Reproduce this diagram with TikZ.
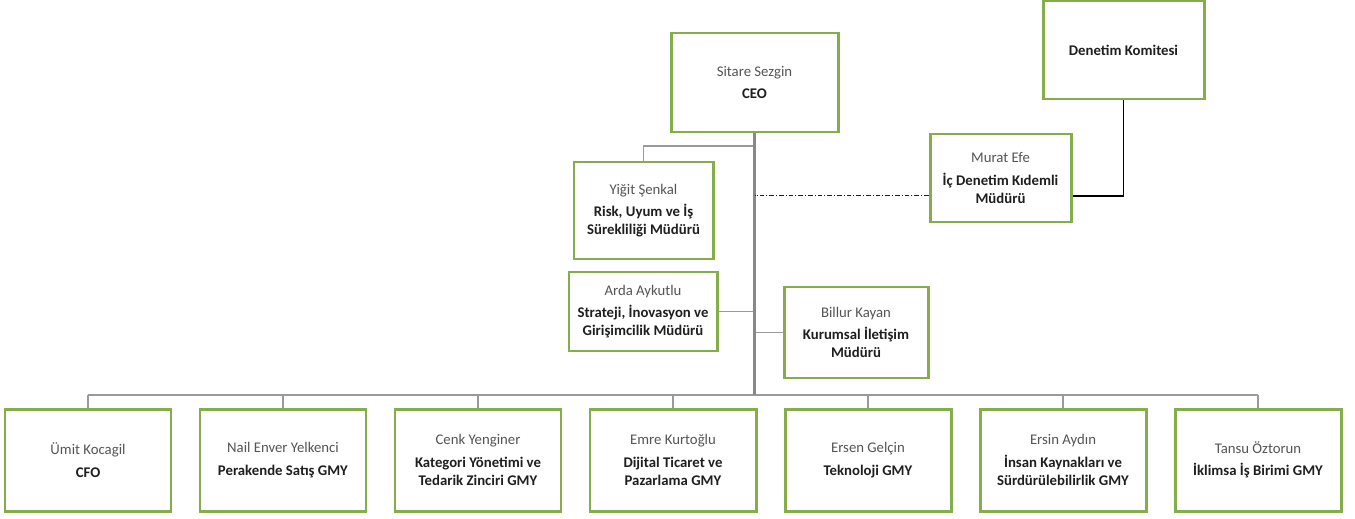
\documentclass[tikz,border=0pt]{standalone}
\usepackage{fontspec}
\setmainfont{Carlito}
\usepackage{tikz}
\usetikzlibrary{shapes,arrows}

\definecolor{boxgreen}{HTML}{86AD4C}
\definecolor{namegray}{HTML}{555555}
\definecolor{titleblack}{HTML}{1F1F1F}
\definecolor{linegray}{HTML}{9A9A9A}
\definecolor{trunkgray}{HTML}{888888}

\tikzset{
  box/.style={draw=boxgreen, line width=1.7pt, fill=white, align=center,
    font=\fontsize{8.4}{10.2}\selectfont, text=titleblack, inner sep=2pt},
  bottombox/.style={box, minimum width=3.32cm, minimum height=2.04cm},
  branch/.style={draw=linegray, line width=0.7pt},
  busline/.style={draw=linegray, line width=1.1pt},
  trunk/.style={draw=trunkgray, line width=1.4pt}
}

\begin{document}
\begin{tikzpicture}
\useasboundingbox (0,0) rectangle (27.1,-10.36);

% top
\node (CEO) at (15.09,-1.65) [box, minimum width=3.34cm, minimum height=1.98cm]
  {\textcolor{namegray}{Sitare Sezgin}\\[2.5pt]\textbf{CEO}};
\node (Denetim) at (22.47,-1.0) [box, minimum width=3.22cm, minimum height=1.96cm]
  {\textbf{Denetim Komitesi}};
\node (Murat) at (20.01,-3.56) [box, minimum width=2.82cm, minimum height=1.76cm]
  {\textcolor{namegray}{Murat Efe}\\[2.5pt]\textbf{İç Denetim Kıdemli}\\\textbf{Müdürü}};

% staff
\node (Yigit) at (12.87,-4.21) [box, minimum width=2.78cm, minimum height=1.94cm]
  {\textcolor{namegray}{Yiğit Şenkal}\\[2.5pt]\textbf{Risk, Uyum ve İş}\\\textbf{Sürekliliği Müdürü}};
\node (Arda) at (12.86,-6.23) [box, minimum width=2.96cm, minimum height=1.58cm]
  {\textcolor{namegray}{Arda Aykutlu}\\[2.5pt]\textbf{Strateji, İnovasyon ve}\\\textbf{Girişimcilik Müdürü}};
\node (Billur) at (17.12,-6.65) [box, minimum width=2.88cm, minimum height=1.82cm]
  {\textcolor{namegray}{Billur Kayan}\\[2.5pt]\textbf{Kurumsal İletişim}\\\textbf{Müdürü}};

% bottom row
\node (Umit) at (1.76,-9.2) [bottombox]
  {\textcolor{namegray}{Ümit Kocagil}\\[2.5pt]\textbf{CFO}};
\node (Nail) [bottombox, node distance=3.9cm, right of=Umit]
  {\textcolor{namegray}{Nail Enver Yelkenci}\\[2.5pt]\textbf{Perakende Satış GMY}};
\node (Cenk) [bottombox, node distance=3.9cm, right of=Nail]
  {\textcolor{namegray}{Cenk Yenginer}\\[2.5pt]\textbf{Kategori Yönetimi ve}\\\textbf{Tedarik Zinciri GMY}};
\node (Emre) [bottombox, node distance=3.9cm, right of=Cenk]
  {\textcolor{namegray}{Emre Kurtoğlu}\\[2.5pt]\textbf{Dijital Ticaret ve}\\\textbf{Pazarlama GMY}};
\node (Ersen) [bottombox, node distance=3.9cm, right of=Emre]
  {\textcolor{namegray}{Ersen Gelçin}\\[2.5pt]\textbf{Teknoloji GMY}};
\node (Ersin) [bottombox, node distance=3.9cm, right of=Ersen]
  {\textcolor{namegray}{Ersin Aydın}\\[2.5pt]\textbf{İnsan Kaynakları ve}\\\textbf{Sürdürülebilirlik GMY}};
\node (Tansu) [bottombox, node distance=3.9cm, right of=Ersin]
  {\textcolor{namegray}{Tansu Öztorun}\\[2.5pt]\textbf{İklimsa İş Birimi GMY}};

\coordinate (Bus) at (15.09,-7.9);
\coordinate (YigitJoint) at (15.09,-2.92);

\foreach \n in {Umit,Nail,Cenk,Emre,Ersen,Ersin,Tansu}
  \draw [branch] (\n.north) -- (\n.north |- Bus);
\draw [busline] (Umit.north |- Bus) -- (Tansu.north |- Bus);

\draw [branch] (YigitJoint) -| (Yigit.north);
\draw [branch] (Arda.east) -- (Arda.east -| Bus);
\draw [branch] (Billur.west) -- (Billur.west -| Bus);

\draw [trunk] (CEO.south) -- (Bus);

\draw [titleblack, line width=0.6pt, dash pattern=on 2.5pt off 1.2pt on 0.6pt off 1.2pt]
  (Murat.194) -- (Murat.194 -| Bus);
\draw [black, line width=0.9pt] (Denetim.south) |- (Murat.-14);

\end{tikzpicture}
\end{document}
